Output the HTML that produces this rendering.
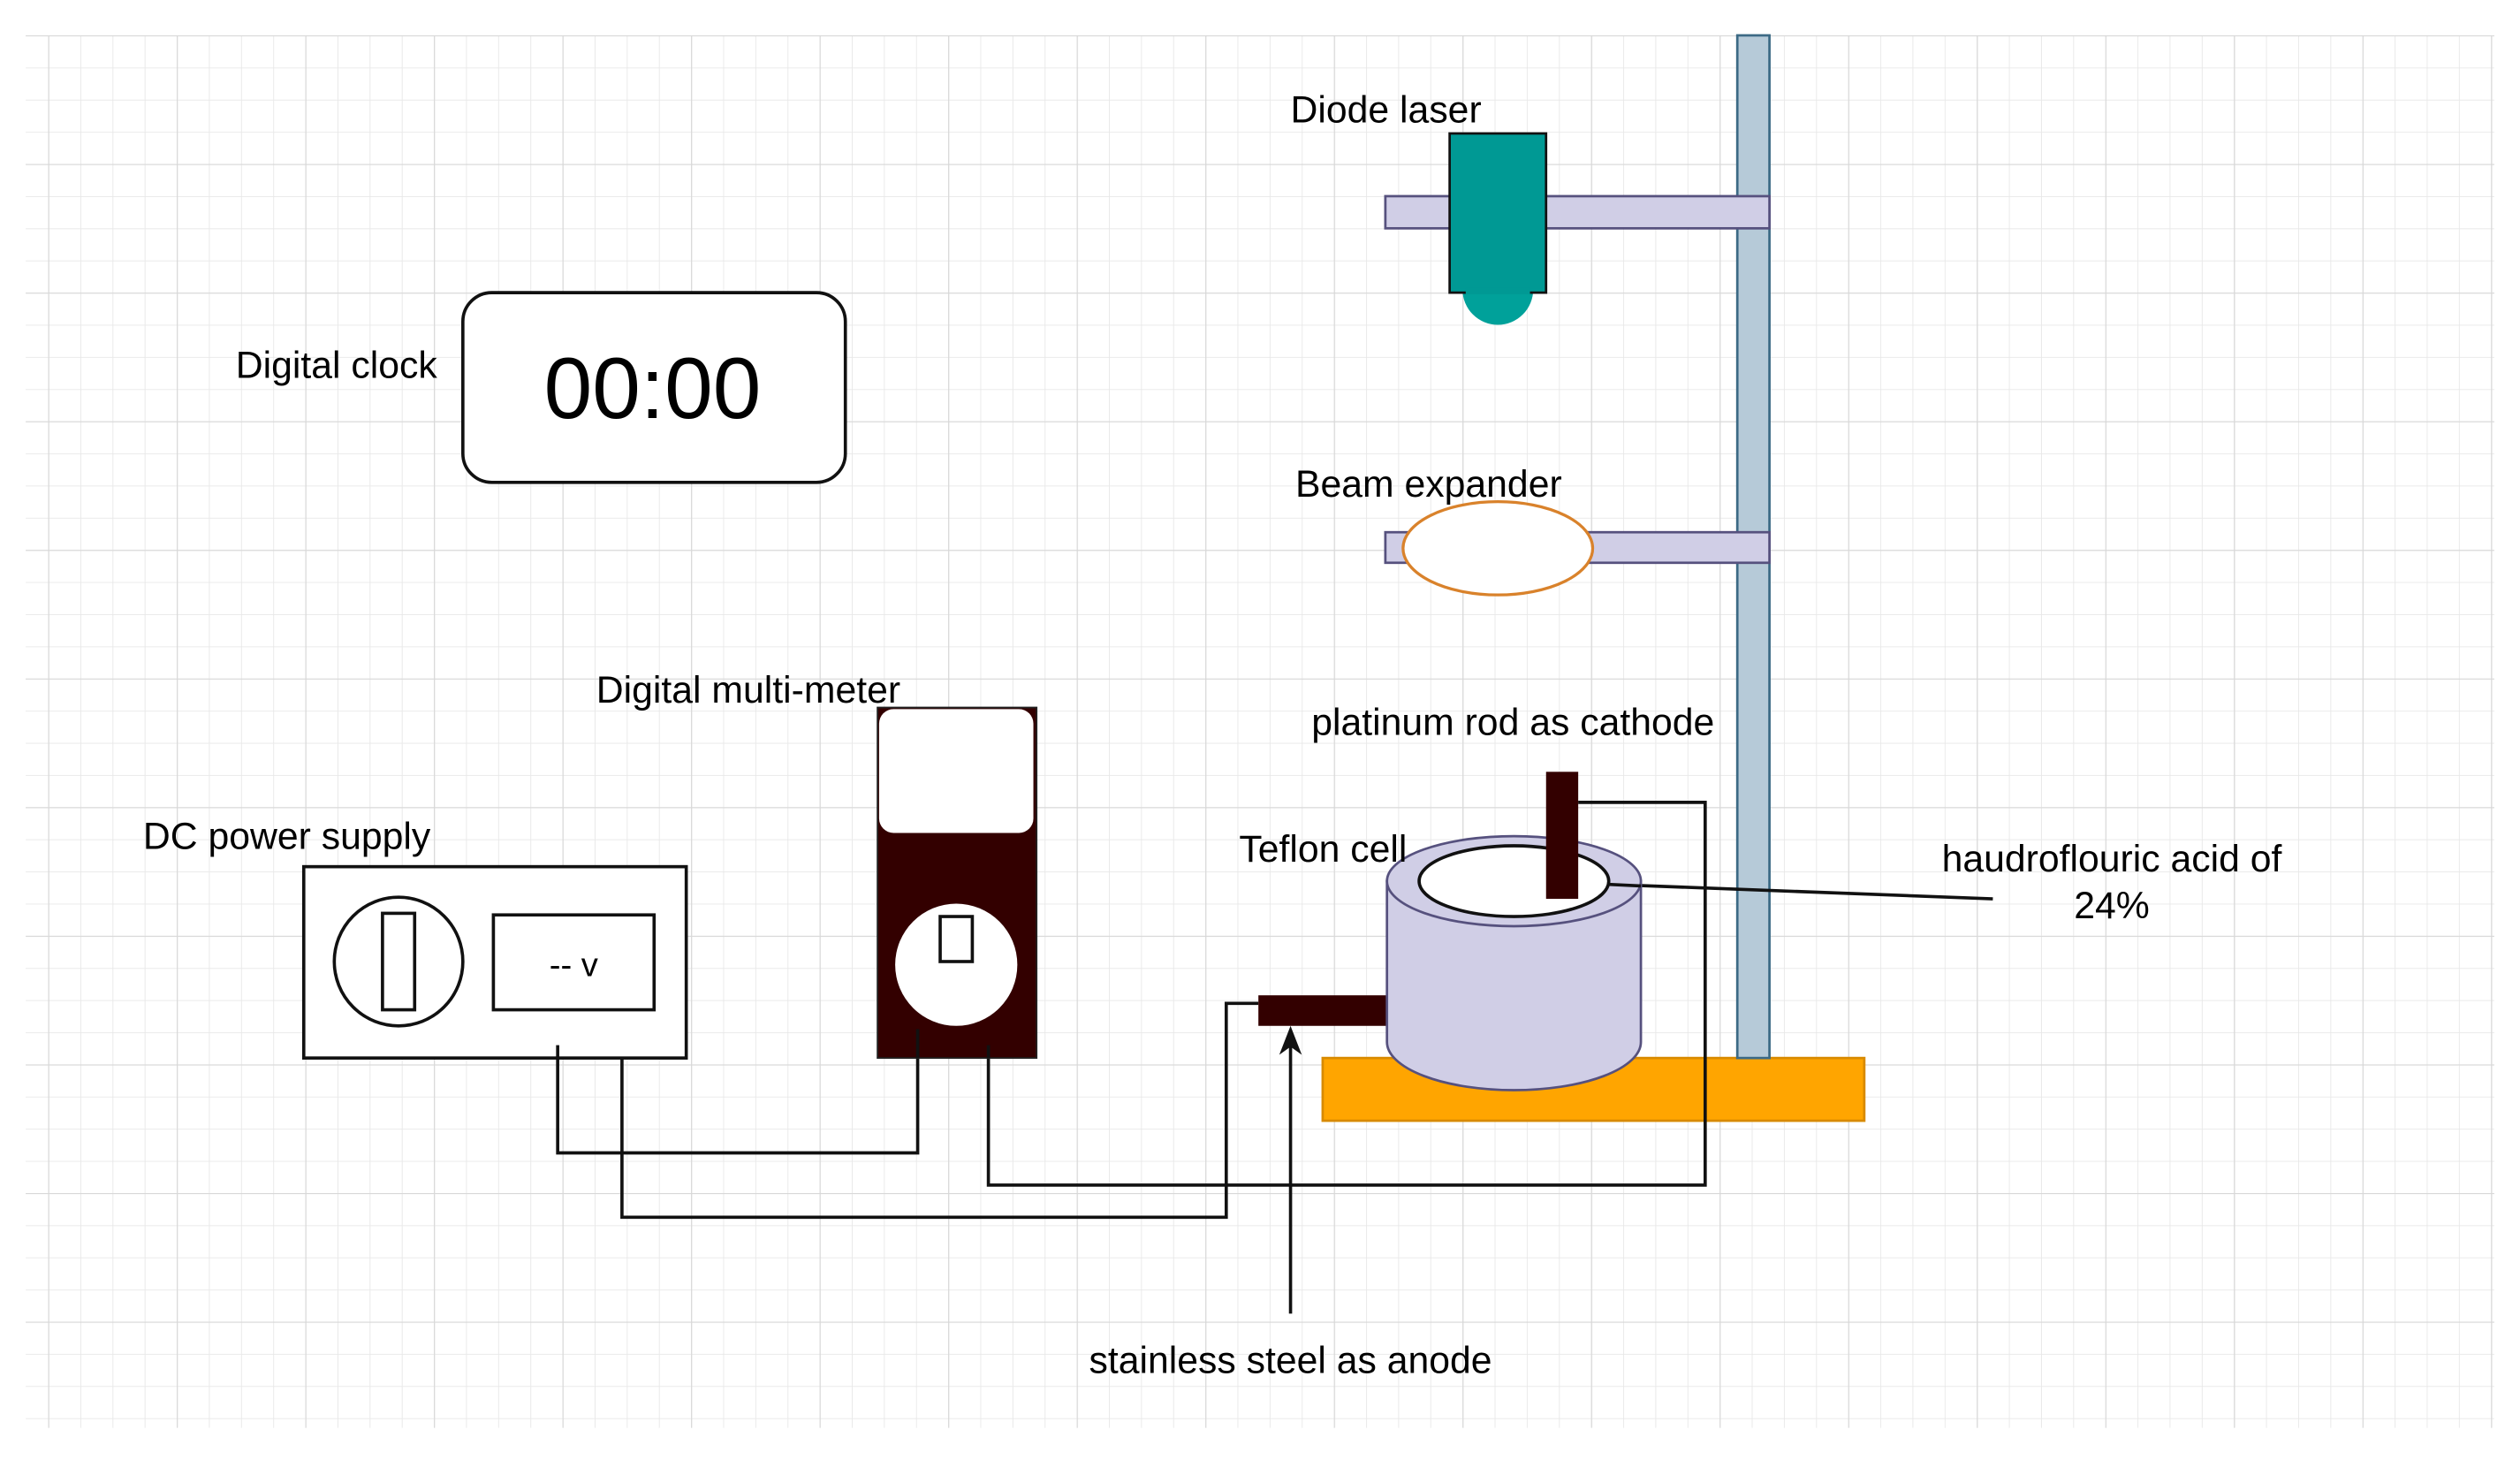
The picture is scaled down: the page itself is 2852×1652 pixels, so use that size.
<!DOCTYPE html>
<html><head><meta charset="utf-8"><style>
html,body{margin:0;padding:0;background:#fff}
svg{display:block}
text{font-family:"Liberation Sans",Arial,sans-serif;fill:#000}
</style></head><body>
<svg width="2852" height="1652" viewBox="0 0 1568 908" preserveAspectRatio="none" xmlns="http://www.w3.org/2000/svg">
<defs>
<pattern id="minor" x="30" y="22" width="20" height="20" patternUnits="userSpaceOnUse">
<path d="M0 0V20M0 0H20" stroke="#e8e8e8" stroke-width="1" fill="none"/>
</pattern>
<pattern id="major" x="30" y="22" width="80" height="80" patternUnits="userSpaceOnUse">
<path d="M0 0V80M0 0H80" stroke="#d8d8d8" stroke-width="1.3" fill="none"/>
</pattern>
</defs>
<rect x="16" y="22" width="1536" height="866" fill="url(#minor)"/>
<rect x="16" y="22" width="1536" height="866" fill="url(#major)"/>

<!-- base -->
<rect x="823" y="658" width="337" height="39" fill="#ffa500" stroke="#d88a00" stroke-width="1.5"/>
<!-- pole -->
<rect x="1081" y="22" width="20" height="636" fill="#b6cad8" stroke="#3c6a85" stroke-width="1.5"/>
<!-- arms -->
<rect x="862" y="122" width="239" height="20" fill="#d0cee6" stroke="#56517e" stroke-width="1.5"/>
<rect x="862" y="331" width="239" height="19" fill="#d0cee6" stroke="#56517e" stroke-width="1.5"/>
<!-- diode laser -->
<path d="M910 180 A22 22 0 0 0 954 180 Z" fill="#00a19a"/>
<rect x="902" y="83" width="60" height="99" fill="#009994" stroke="#111" stroke-width="1.5"/>
<rect x="912" y="179" width="40" height="4" fill="#009994"/>
<text x="803" y="76" font-size="23.5">Diode laser</text>
<!-- beam expander -->
<ellipse cx="932" cy="341" rx="59" ry="29" fill="#fff" stroke="#d9822b" stroke-width="1.8"/>
<text x="806" y="309" font-size="23.5">Beam expander</text>

<!-- clock -->
<rect x="288" y="182" width="238" height="118" rx="18" fill="#fff" stroke="#111" stroke-width="2"/>
<text x="406" y="260" font-size="54" text-anchor="middle">00:00</text>
<text x="272" y="235" font-size="23.5" text-anchor="end">Digital clock</text>

<!-- wires -->
<g fill="none" stroke="#111" stroke-width="2">
<path d="M347 650V717H571V640"/>
<path d="M387 658V757H763V624H783"/>
<path d="M615 658V737H1061V499H982"/>
<path d="M1001 550L1240 559"/>
<path d="M803 817V646"/>
</g>
<path d="M803 638L796 656L803 651L810 656Z" fill="#111"/>

<!-- DC power supply -->
<rect x="189" y="539" width="238" height="119" fill="#fff" stroke="#111" stroke-width="2"/>
<ellipse cx="248" cy="598" rx="40" ry="40" fill="#fff" stroke="#111" stroke-width="2"/>
<rect x="238" y="568" width="20" height="60" fill="#fff" stroke="#111" stroke-width="2"/>
<rect x="307" y="569" width="100" height="59" fill="#fff" stroke="#111" stroke-width="2"/>
<text x="357" y="607" font-size="21" text-anchor="middle">-- v</text>
<path d="M347 650V658" stroke="#111" stroke-width="2"/>
<text x="89" y="528" font-size="23.5">DC power supply</text>

<!-- multimeter -->
<rect x="546" y="440" width="99" height="218" fill="#330000" stroke="#222" stroke-width="1"/>
<rect x="547" y="441" width="96" height="77" rx="9" fill="#fff"/>
<circle cx="595" cy="600" r="38" fill="#fff"/>
<rect x="585" y="570" width="20" height="28" fill="#fff" stroke="#111" stroke-width="2"/>
<path d="M571 640V658M615 650V658" stroke="#111" stroke-width="2"/>
<text x="371" y="437" font-size="23.5">Digital multi-meter</text>

<!-- Teflon cell -->
<rect x="783" y="619" width="82" height="19" fill="#330000"/>
<path d="M863 548V648A79 30 0 0 0 1021 648V548Z" fill="#d0cee6" stroke="#56517e" stroke-width="1.5"/>
<ellipse cx="942" cy="548" rx="79" ry="28" fill="#d0cee6" stroke="#56517e" stroke-width="1.5"/>
<ellipse cx="942" cy="548" rx="59" ry="22" fill="#fff" stroke="#111" stroke-width="2"/>
<rect x="962" y="480" width="20" height="79" fill="#330000"/>
<path d="M1001 550L1021 551" stroke="#111" stroke-width="2"/>

<text x="816" y="457" font-size="23.5">platinum rod as cathode</text>
<text x="771" y="536" font-size="23.5">Teflon cell</text>
<text x="1314" y="542" font-size="23.5" text-anchor="middle">haudroflouric acid of</text>
<text x="1314" y="571" font-size="23.5" text-anchor="middle">24%</text>
<text x="803" y="854" font-size="23.5" text-anchor="middle">stainless steel as anode</text>
</svg>
</body></html>
